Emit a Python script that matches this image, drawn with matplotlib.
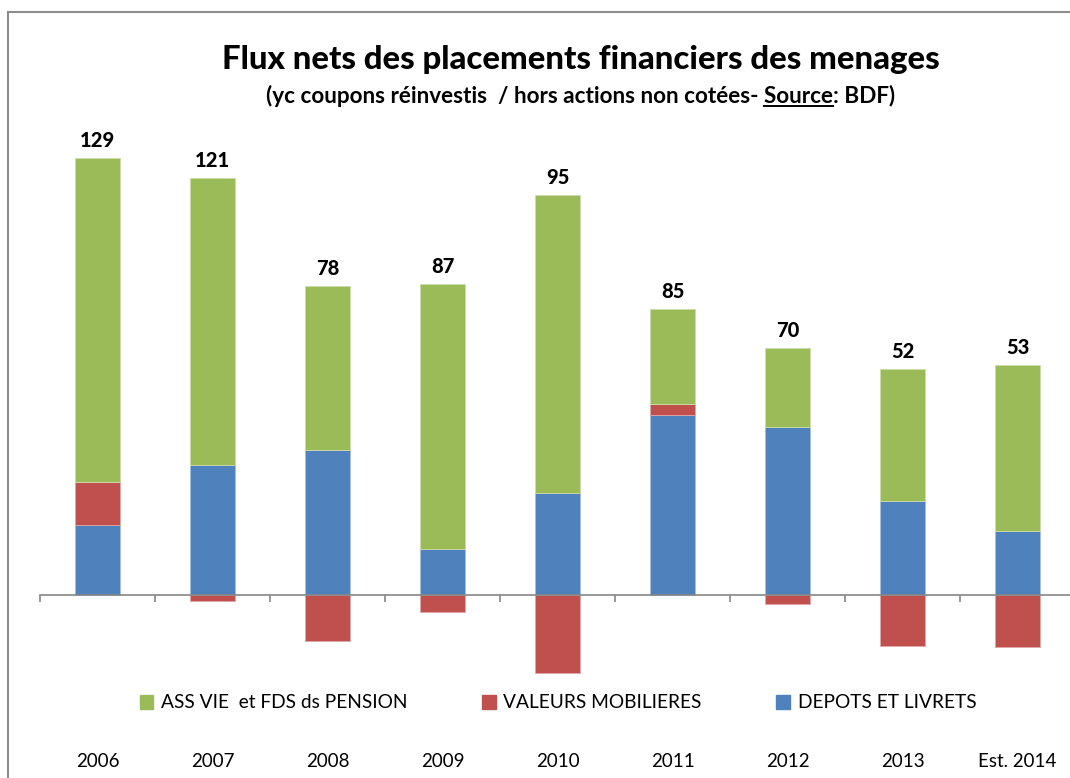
import matplotlib
matplotlib.use("Agg")
import matplotlib.pyplot as plt
import numpy as np
from matplotlib.lines import Line2D
from matplotlib.patches import Patch

plt.rcParams["font.family"] = ["Lato", "DejaVu Sans"]

# ───── Data (Mds €) ────────────────────────────────────────────────────────
years = ["2006", "2007", "2008", "2009", "2010", "2011", "2012", "2013", "Est. 2014"]
depots = [20.6, 38.3, 42.8, 13.6, 30.1, 53.1, 49.6, 27.7, 18.9]
valeurs = [12.7, -1.8, -13.6, -5.0, -23.0, 3.2, -2.7, -15.0, -15.3]
assvie = [95.6, 84.7, 48.4, 78.2, 87.9, 28.0, 23.3, 38.9, 49.0]
totals = [129, 121, 78, 87, 95, 85, 70, 52, 53]

GREEN = "#9BBB59"
RED = "#C0504D"
BLUE = "#4F81BD"
GREY = "#868686"

W, H = 1070, 778
fig = plt.figure(figsize=(W / 100, H / 100), dpi=100)

# plot area : x -0.5..8.5 -> 40..1075 px, y 140..690 px, baseline 595 px
px_per_unit = 3.39
ax = fig.add_axes([40 / W, 1 - 690 / H, 1035 / W, 550 / H])
ax.set_xlim(-0.5, 8.5)
ax.set_ylim(-(690 - 595) / px_per_unit, (595 - 140) / px_per_unit)

x = np.arange(len(years))
dep = np.array(depots)
val = np.array(valeurs)
ass = np.array(assvie)
val_pos = np.clip(val, 0, None)

bw = 0.39
ax.bar(x, dep, bw, color=BLUE, edgecolor="#A7C0DE", linewidth=0.6, zorder=2)
ax.bar(x, val, bw, bottom=np.where(val > 0, dep, 0), color=RED,
       edgecolor="#DFA8A6", linewidth=0.6, zorder=2)
ax.bar(x, ass, bw, bottom=dep + val_pos, color=GREEN,
       edgecolor="#CDDDAC", linewidth=0.6, zorder=2)

tops = dep + val_pos + ass
for xi, top, t in zip(x, tops, totals):
    ax.annotate(str(t), (xi, top), xytext=(0, 8), textcoords="offset points",
                ha="center", va="baseline", fontsize=14.5, fontweight="black")

# axis at zero
for s in ["top", "right", "left"]:
    ax.spines[s].set_visible(False)
ax.spines["bottom"].set_position(("data", 0))
ax.spines["bottom"].set_color(GREY)
ax.spines["bottom"].set_linewidth(1.2)
ax.set_yticks([])
ax.set_xticks(x, years)
ax.set_xticks(np.arange(-0.5, 9, 1), minor=True)
ax.tick_params(axis="x", which="major", length=0, pad=114, labelsize=13.5)
ax.tick_params(axis="x", which="minor", length=5, width=1.2, color=GREY)
ax.set_facecolor("none")

# ───── Titles ──────────────────────────────────────────────────────────────
cx = 581 / W
fig.text(cx, 1 - 69 / H, "Flux nets des placements financiers des menages",
         ha="center", va="baseline", fontsize=23.7, fontweight="black")

sub_y = 1 - 103 / H
sub_fs = 16.2
full = "(yc coupons réinvestis  / hors actions non cotées- Source: BDF)"
sub = fig.text(cx, sub_y, full, ha="center", va="baseline",
               fontsize=sub_fs, fontweight="bold")
fig.canvas.draw()
r = fig.canvas.get_renderer()
bb = sub.get_window_extent(r)
tmp_s = fig.text(0, 0, "Source", fontsize=sub_fs, fontweight="bold")
tmp_e = fig.text(0, 0, ": BDF)", fontsize=sub_fs, fontweight="bold")
ws = tmp_s.get_window_extent(r).width
we = tmp_e.get_window_extent(r).width
tmp_s.remove()
tmp_e.remove()
x1 = (bb.x1 - we) / W
x0 = (bb.x1 - we - ws) / W
fig.add_artist(Line2D([x0, x1], [sub_y - 3 / H, sub_y - 3 / H],
                      color="black", linewidth=1.4))

# ───── Legend ──────────────────────────────────────────────────────────────
handles = [Patch(color=GREEN, label="ASS VIE  et FDS ds PENSION"),
           Patch(color=RED, label="VALEURS MOBILIERES"),
           Patch(color=BLUE, label="DEPOTS ET LIVRETS")]
fig.legend(handles=handles, loc="center", bbox_to_anchor=(558 / W, 1 - 703 / H),
           ncol=3, frameon=False, fontsize=13.8, handlelength=0.7, handleheight=0.7,
           handletextpad=0.4, columnspacing=3.9)

# ───── Chart frame ─────────────────────────────────────────────────────────
fy = 1 - 12 / H
fx = 8 / W
fig.add_artist(Line2D([fx, fx], [0, fy], color="#8C8C8C", linewidth=1.5))
fig.add_artist(Line2D([fx, 1], [fy, fy], color="#8C8C8C", linewidth=1.5))

fig.savefig("out.png", dpi=100)
